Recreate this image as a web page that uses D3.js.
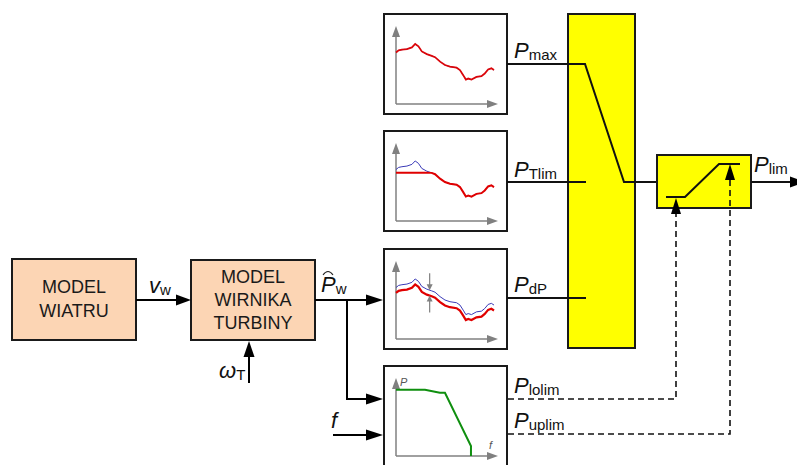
<!DOCTYPE html>
<html>
<head>
<meta charset="utf-8">
<script src="https://cdn.jsdelivr.net/npm/d3@7"></script>
<style>
  html, body { margin: 0; padding: 0; background: #fff; }
  svg { display: block; }
</style>
</head>
<body>
<svg id="chart" width="797" height="465"></svg>
<script>
// ---------- data ----------
// forecast wind power curve (x: time units 0..100, y: power units 0..100)
const windT = [0, 2.6, 5.8, 10.7, 15.6, 18.8, 22, 25.3, 30.2, 35, 38.3, 43.2, 48, 52.9, 59.4, 62.7, 65.9, 68.5, 70.8, 74, 78.9, 83.8, 87, 90.3, 93.5, 96.1];
const windP = [66, 68.7, 69.6, 70.4, 72.6, 77, 73.9, 67.4, 63.9, 61.7, 60, 54.3, 50, 47.8, 46.5, 43.5, 37, 31.3, 32.6, 31.3, 34.8, 35.7, 39.1, 44.3, 45.7, 43.5];
const tlimCap = 62;       // P_Tlim level
const dPMargin = 7;       // P_dP reserve
const dPMarkerT = 33;     // where the reserve arrows are drawn
// frequency response characteristic P(f)
const freqF = [0, 28.4, 43, 48, 73.5, 73.5];
const freqP = [85, 85, 81, 81, 12.7, 0];
// block labels
const windModelLines = ["MODEL", "WIATRU"];
const rotorModelLines = ["MODEL", "WIRNIKA", "TURBINY"];
const panelOutputs = [["P", "max"], ["P", "Tlim"], ["P", "dP"]];
const freqOutputs = [["P", "lolim"], ["P", "uplim"]];

// ---------- drawing ----------
const svg = d3.select("#chart");
const FONT = "'Liberation Sans', Arial, sans-serif";
const BLACK = "#000";
const GRAY = "#808080";

function tri(g, x, y, dir, len, half, color) {
  let pts;
  if (dir === "right") pts = [[x, y], [x - len, y - half], [x - len, y + half]];
  else if (dir === "left") pts = [[x, y], [x + len, y - half], [x + len, y + half]];
  else if (dir === "up") pts = [[x, y], [x - half, y + len], [x + half, y + len]];
  else pts = [[x, y], [x - half, y - len], [x + half, y - len]];
  g.append("polygon").attr("points", pts.map(p => p.join(",")).join(" ")).attr("fill", color);
}
function line(g, pts, w, color, dash) {
  const p = g.append("path").attr("d", d3.line()(pts)).attr("fill", "none")
    .attr("stroke", color).attr("stroke-width", w);
  if (dash) p.attr("stroke-dasharray", dash);
  return p;
}
function subLabel(x, y, main, sub, size, subSize) {
  const t = svg.append("text").attr("x", x).attr("y", y)
    .attr("font-family", FONT).attr("fill", "#111");
  t.append("tspan").text(main).attr("font-size", size).attr("font-style", "italic");
  t.append("tspan").text(sub).attr("font-size", subSize).attr("dy", 2);
  return t;
}

// ---- left blocks ----
function block(x, y, w, h, lines, baselines) {
  svg.append("rect").attr("x", x).attr("y", y).attr("width", w).attr("height", h)
    .attr("fill", "#fcd5b4").attr("stroke", "#1a1a1a").attr("stroke-width", 2);
  lines.forEach((s, i) => {
    svg.append("text").attr("x", x + w / 2).attr("y", baselines[i])
      .attr("text-anchor", "middle").attr("font-family", FONT)
      .attr("font-size", 18).attr("fill", "#1a1a1a").text(s);
  });
}
block(12, 259, 124, 81, windModelLines, [293, 317]);
block(191, 260, 124, 80, rotorModelLines, [283, 306, 329]);

// v_w arrow
line(svg, [[136, 300], [178, 300]], 2, BLACK);
tri(svg, 191, 300, "right", 15, 5.5, BLACK);
subLabel(149, 293, "v", "w", 22, 15);

// omega_T arrow
line(svg, [[249, 383], [249, 350]], 2, BLACK);
tri(svg, 249, 341, "up", 16, 5.5, BLACK);
subLabel(219, 378, "\u03C9", "T", 22, 15);

// P_w hat output
line(svg, [[315, 300], [370, 300]], 2, BLACK);
tri(svg, 383, 300, "right", 17, 5.5, BLACK);
subLabel(321, 292, "P", "w", 22, 15);
svg.append("path").attr("d", "M323,275 Q328,268 333,275").attr("fill", "none")
  .attr("stroke", "#222").attr("stroke-width", 1.1);
// branch to frequency block
line(svg, [[347, 300], [347, 399], [370, 399]], 2, BLACK);
tri(svg, 383, 399, "right", 17, 5.5, BLACK);
// f input
line(svg, [[333, 435], [370, 435]], 2, BLACK);
tri(svg, 383, 435, "right", 17, 5.5, BLACK);
svg.append("text").attr("x", 331).attr("y", 428).attr("font-family", FONT)
  .attr("font-size", 22).attr("font-style", "italic").attr("fill", "#111").text("f");

// ---- mini panels ----
const panelTops = [14, 131, 249, 366];
const panelX = 384, panelW = 123, panelH = 100;
function panel(top) {
  const g = svg.append("g");
  g.append("rect").attr("x", panelX).attr("y", top).attr("width", panelW).attr("height", panelH)
    .attr("fill", "#fff").attr("stroke", "#1a1a1a").attr("stroke-width", 2);
  const x = d3.scaleLinear().domain([0, 100]).range([396, 498]);
  const y = d3.scaleLinear().domain([0, 100]).range([top + 90, top + 12]);
  // axes
  line(g, [[396, top + 90], [488, top + 90]], 1.5, GRAY);
  tri(g, 498, top + 90, "right", 11, 4, GRAY);
  line(g, [[396, top + 90], [396, top + 22]], 1.5, GRAY);
  tri(g, 396, top + 12, "up", 11, 4, GRAY);
  return { g, x, y };
}
const idx = d3.range(windT.length);
const RED = "#e00000", BLUE = "#3b3bb8";

// panel 1: P_max
{
  const { g, x, y } = panel(panelTops[0]);
  const ln = d3.line().x(i => x(windT[i])).y(i => y(windP[i]));
  g.append("path").attr("d", ln(idx)).attr("fill", "none").attr("stroke", BLUE).attr("stroke-width", 1);
  g.append("path").attr("d", ln(idx)).attr("fill", "none").attr("stroke", RED).attr("stroke-width", 1.8).attr("opacity", 0.95);
}
// panel 2: P_Tlim
{
  const { g, x, y } = panel(panelTops[1]);
  const lnB = d3.line().x(i => x(windT[i])).y(i => y(windP[i]));
  const lnR = d3.line().x(i => x(windT[i])).y(i => y(Math.min(windP[i], tlimCap)));
  g.append("path").attr("d", lnB(idx)).attr("fill", "none").attr("stroke", BLUE).attr("stroke-width", 1);
  g.append("path").attr("d", lnR(idx)).attr("fill", "none").attr("stroke", RED).attr("stroke-width", 2);
}
// panel 3: P_dP
{
  const { g, x, y } = panel(panelTops[2]);
  const lnB = d3.line().x(i => x(windT[i])).y(i => y(windP[i]));
  const lnR = d3.line().x(i => x(windT[i])).y(i => y(windP[i] - dPMargin));
  g.append("path").attr("d", lnB(idx)).attr("fill", "none").attr("stroke", BLUE).attr("stroke-width", 1);
  g.append("path").attr("d", lnR(idx)).attr("fill", "none").attr("stroke", RED).attr("stroke-width", 2.2);
  const vAt = d3.scaleLinear().domain(windT).range(windP)(dPMarkerT);
  const mx = x(dPMarkerT);
  const yb = y(vAt), yr = y(vAt - dPMargin);
  line(g, [[mx, yb - 17], [mx, yb - 5]], 1.2, GRAY);
  tri(g, mx, yb, "down", 6, 3, GRAY);
  line(g, [[mx, yr + 17], [mx, yr + 5]], 1.2, GRAY);
  tri(g, mx, yr, "up", 6, 3, GRAY);
}
// panel 4: frequency characteristic
{
  const { g, x, y } = panel(panelTops[3]);
  const ln = d3.line().x((d, i) => x(freqF[i])).y((d, i) => y(freqP[i]));
  g.append("path").attr("d", ln(freqF)).attr("fill", "none").attr("stroke", "#0f8f0f").attr("stroke-width", 2);
  g.append("text").attr("x", 400).attr("y", 386).attr("font-family", FONT).attr("font-size", 11)
    .attr("font-style", "italic").attr("fill", "#555").text("P");
  g.append("text").attr("x", 489).attr("y", 449).attr("font-family", FONT).attr("font-size", 11)
    .attr("font-style", "italic").attr("fill", "#555").text("f");
}

// ---- yellow selector ----
svg.append("rect").attr("x", 568).attr("y", 14).attr("width", 67).attr("height", 334)
  .attr("fill", "#ffff00").attr("stroke", "#1a1a1a").attr("stroke-width", 2);
line(svg, [[507, 64], [585, 64], [624, 182], [657, 182]], 2, "#111");
line(svg, [[507, 182], [586, 182]], 2, "#111");
line(svg, [[507, 298], [586, 298]], 2, "#111");
const outBaselines = [58, 177, 292];
panelOutputs.forEach((d, i) => subLabel(514, outBaselines[i], d[0], d[1], 22, 15));

// ---- limiter ----
svg.append("rect").attr("x", 657).attr("y", 155).attr("width", 94).attr("height", 53)
  .attr("fill", "#ffff00").attr("stroke", "#1a1a1a").attr("stroke-width", 2);
line(svg, [[666, 197], [685, 197], [719, 164], [740, 164]], 2, "#111");
line(svg, [[751, 182], [790, 182]], 2, "#111");
tri(svg, 806, 182, "right", 16, 5.5, BLACK);
subLabel(754, 172, "P", "lim", 22, 15);

// dashed limit lines
line(svg, [[508, 399], [676, 399], [676, 212]], 1.6, "#111", "6,4");
tri(svg, 676, 198, "up", 16, 5, BLACK);
line(svg, [[508, 434], [730, 434], [730, 178]], 1.6, "#111", "6,4");
tri(svg, 730, 164, "up", 16, 5, BLACK);
const freqBaselines = [393, 428];
freqOutputs.forEach((d, i) => subLabel(514, freqBaselines[i], d[0], d[1], 22, 15));
</script>
</body>
</html>
